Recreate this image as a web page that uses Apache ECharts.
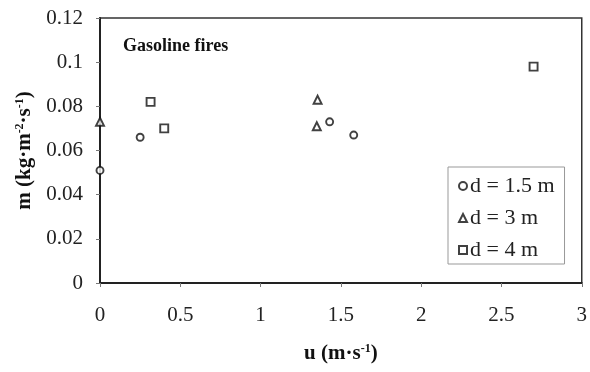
<!DOCTYPE html>
<html><head><meta charset="utf-8">
<script src="https://cdn.jsdelivr.net/npm/echarts@6/dist/echarts.min.js"></script>
<style>html,body{margin:0;padding:0;background:#fff}#c{width:590px;height:372px}</style>
</head><body><div id="c"></div>
<script>
const seriesNames = ['d = 1.5 m', 'd = 3 m', 'd = 4 m'];
const d15 = [[0, 0.051], [0.25, 0.066], [1.43, 0.073], [1.58, 0.067]];
const d3 = [[0, 0.073], [1.355, 0.083], [1.35, 0.071]];
const d4 = [[0.315, 0.082], [0.40, 0.070], [2.70, 0.098]];
const xTicks = [0, 0.5, 1, 1.5, 2, 2.5, 3];
const yTicks = [0, 0.02, 0.04, 0.06, 0.08, 0.1, 0.12];

const serif = 'Liberation Serif';
const chart = echarts.init(document.getElementById('c'));
const mk = (name, data, sym, size) => ({
  name, type: 'scatter', data, symbol: sym, symbolSize: size,
  itemStyle: { color: '#fff', borderColor: '#111', borderWidth: 1.9 }
});
const rich = {
  b: { fontFamily: serif, fontWeight: 'bold', fontSize: 21, color: '#111' },
  s: { fontFamily: serif, fontWeight: 'bold', fontSize: 12, color: '#111', verticalAlign: 'top', padding: [0, 0, 10, 0] }
};
chart.setOption({
  animation: false,
  grid: { left: 100, right: 5, top: 18, bottom: 89, show: true, borderColor: '#333', borderWidth: 1.5, backgroundColor: 'transparent' },
  xAxis: {
    type: 'value', min: 0, max: 3, interval: 0.5,
    axisLine: { lineStyle: { color: '#222', width: 2 } },
    axisTick: { show: true, length: 4, lineStyle: { color: '#777' } },
    splitLine: { show: false },
    axisLabel: { margin: 22, color: '#222', fontFamily: serif, fontSize: 21, formatter: v => String(v) },
    name: '{b|u (m·s}{s|-1}{b|)}', nameLocation: 'middle', nameGap: 60,
    nameTextStyle: { rich }
  },
  yAxis: {
    type: 'value', min: 0, max: 0.12, interval: 0.02,
    axisLine: { show: true, lineStyle: { color: '#222', width: 2 } },
    axisTick: { show: true, length: 4, lineStyle: { color: '#777' } },
    splitLine: { show: false },
    axisLabel: { margin: 17, color: '#222', fontFamily: serif, fontSize: 21, formatter: v => String(+v.toFixed(2)) },
    name: '{b|m (kg·m}{s|-2}{b|·s}{s|-1}{b|)}', nameLocation: 'middle', nameGap: 59, nameRotate: 90,
    nameTextStyle: { rich }
  },
  legend: {
    orient: 'vertical', left: 448, top: 167,
    backgroundColor: '#fff', borderColor: '#999', borderWidth: 1,
    padding: [8, 10, 3, 10], itemGap: 10, itemWidth: 8, itemHeight: 8,
    textStyle: { fontFamily: serif, fontSize: 22, color: '#222', padding: [0, 0, 0, -2] },
    data: seriesNames
  },
  graphic: [{
    type: 'text', left: 123, top: 37,
    style: { text: 'Gasoline fires', fontFamily: serif, fontWeight: 'bold', fontSize: 18, fill: '#111' }
  }],
  series: [
    mk(seriesNames[0], d15, 'circle', 7),
    mk(seriesNames[1], d3, 'triangle', 8),
    mk(seriesNames[2], d4, 'rect', 8)
  ]
});
</script></body></html>
